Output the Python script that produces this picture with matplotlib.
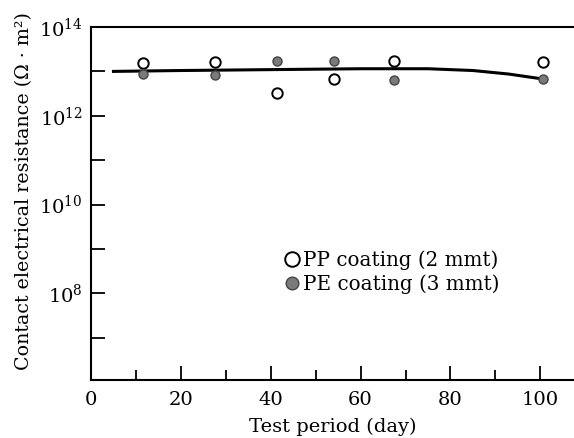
import matplotlib
matplotlib.use("Agg")
import matplotlib.pyplot as plt
from matplotlib.ticker import FixedLocator

plt.rcParams['font.family'] = ['DejaVu Serif']
plt.rcParams['mathtext.fontset'] = 'dejavuserif'

# Data (days, log10 of resistance)
pp_days = [11.5, 27.5, 41.5, 54, 67.5, 100.5]
pp_log = [13.19, 13.21, 12.51, 12.83, 13.24, 13.21]
pe_days = [11.5, 27.5, 41.5, 54, 67.5, 100.5]
pe_log = [12.94, 12.92, 13.24, 13.24, 12.81, 12.83]
trend_days = [5, 20, 40, 60, 75, 85, 93, 100.5]
trend_log = [13.0, 13.02, 13.04, 13.06, 13.06, 13.02, 12.94, 12.83]

x_major = [0, 20, 40, 60, 80, 100]
x_minor = [10, 30, 50, 70, 90]
y_labeled = [8, 10, 12, 14]
y_all = [7, 8, 9, 10, 11, 12, 13, 14]

fig = plt.figure(figsize=(5.74, 4.38), dpi=100)
ax = fig.add_axes([91/574, 58/438, 1 - 91/574, (380-27)/438])

ax.plot(trend_days, [10**v for v in trend_log], color='black', lw=2.2, zorder=2)
ax.plot(pp_days, [10**v for v in pp_log], 'o', ms=7.5, mfc='white', mec='black', mew=1.4, zorder=3,
        label='PP coating (2 mmt)')
ax.plot(pe_days, [10**v for v in pe_log], 'o', ms=6.5, mfc='#7a7a7a', mec='#444444', mew=1.0, zorder=3,
        label='PE coating (3 mmt)')

ax.set_yscale('log')
ax.set_xlim(0, 107.5)
ax.set_ylim(10**6.05, 1e14)

ax.xaxis.set_major_locator(FixedLocator(x_major))
ax.xaxis.set_minor_locator(FixedLocator(x_minor))
ax.yaxis.set_major_locator(FixedLocator([10**v for v in y_all]))
ax.yaxis.set_minor_locator(FixedLocator([]))
ax.set_yticklabels([r'$10^{%d}$' % v if v in y_labeled else '' for v in y_all])
ax.set_xticklabels([str(v) for v in x_major])

ax.tick_params(axis='both', which='major', direction='in', length=10, width=1.3, labelsize=14, pad=8)
ax.tick_params(axis='x', which='minor', direction='in', length=7, width=1.3)
ax.tick_params(axis='y', which='major', pad=6)

for s in ['left', 'bottom', 'top']:
    ax.spines[s].set_linewidth(1.5)
ax.spines['right'].set_visible(False)

ax.set_xlabel('Test period (day)', fontsize=14, labelpad=6)
ax.set_ylabel('Contact electrical resistance (Ω · m²)', fontsize=13.7)
ax.yaxis.set_label_coords(-0.12, 0.535)

ax.legend(loc='upper left', bbox_to_anchor=(0.375, 0.395), frameon=False, fontsize=14.3,
          handletextpad=0.05, borderpad=0, labelspacing=0.2, handlelength=1.0, markerscale=1.4)

fig.savefig('out.png', dpi=100)
